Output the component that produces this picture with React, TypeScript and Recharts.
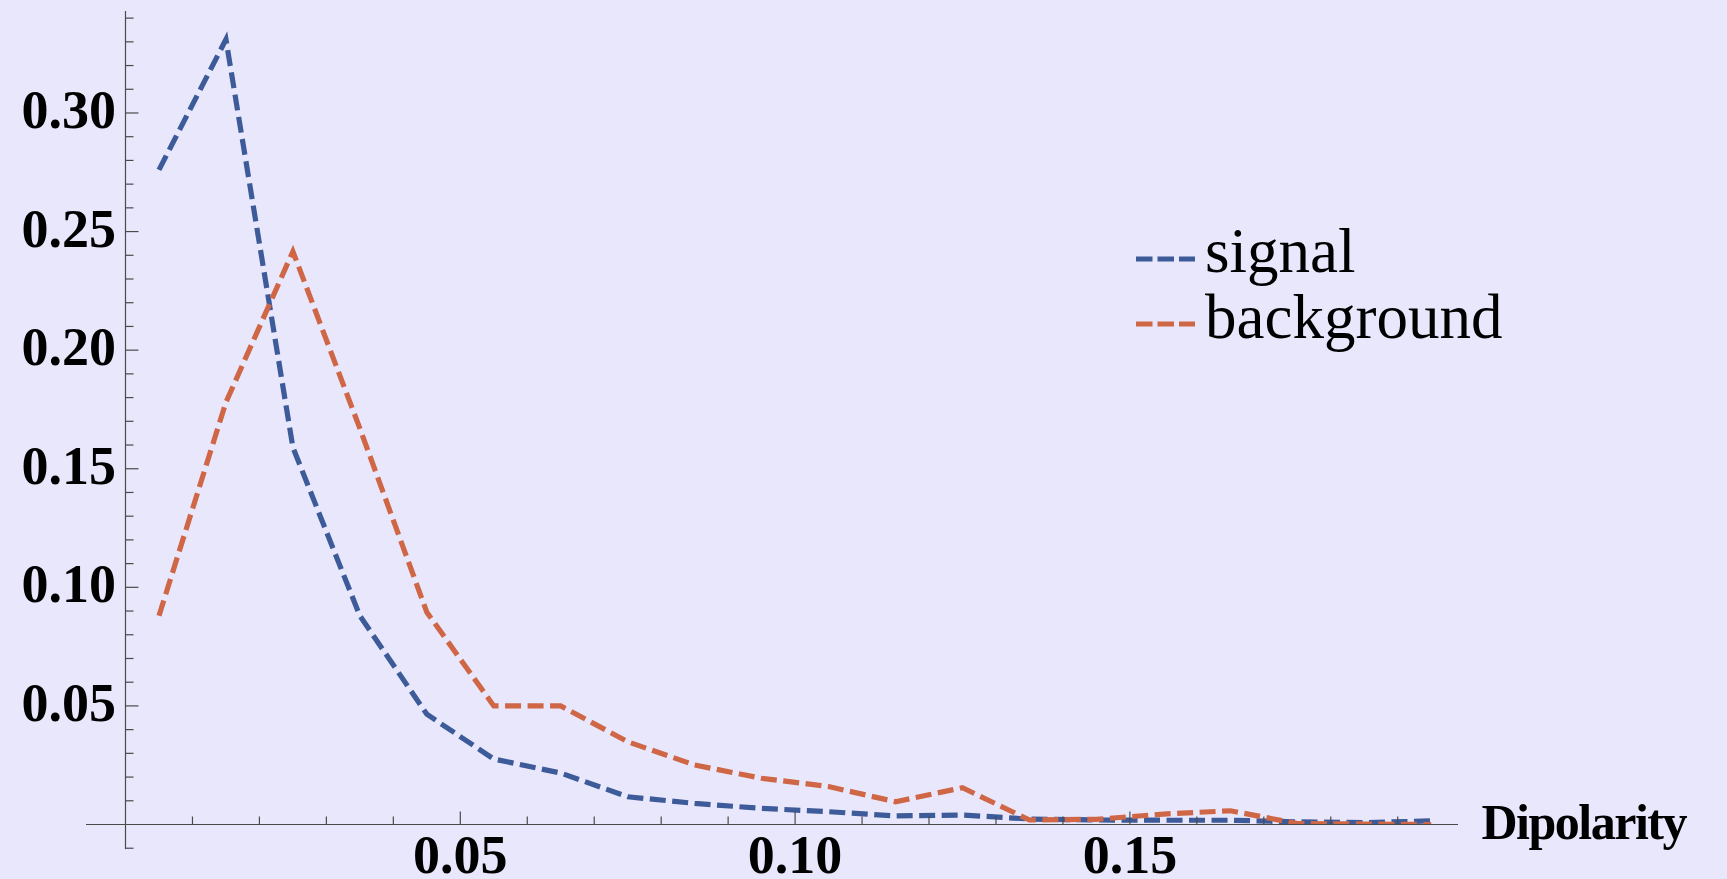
import { LineChart, Line, XAxis, YAxis, ReferenceLine, Legend } from "recharts";

// bin centres of the dipolarity histogram
const dipolarity = [
  0.005, 0.015, 0.025, 0.035, 0.045, 0.055, 0.065, 0.075, 0.085, 0.095,
  0.105, 0.115, 0.125, 0.135, 0.145, 0.155, 0.165, 0.175, 0.185, 0.195,
];

const signal = [
  0.276, 0.331, 0.159, 0.088, 0.0465, 0.0276, 0.0217, 0.0117, 0.0089, 0.0068,
  0.0054, 0.0036, 0.004, 0.0023, 0.0019, 0.0018, 0.0018, 0.0011, 0.0008, 0.0015,
];

const background = [
  0.088, 0.178, 0.2416, 0.167, 0.0895, 0.05, 0.05, 0.0349, 0.0251, 0.0195,
  0.016, 0.0096, 0.0155, 0.0019, 0.0022, 0.0044, 0.0058, 0.0004, 0.0002, 0,
];

const seriesNames = ["signal", "background"];

const xTicks = [
  0.01, 0.02, 0.03, 0.04, 0.05, 0.06, 0.07, 0.08, 0.09, 0.1,
  0.11, 0.12, 0.13, 0.14, 0.15, 0.16, 0.17, 0.18, 0.19,
];

const yTicks = [
  0.01, 0.02, 0.03, 0.04, 0.05, 0.06, 0.07, 0.08, 0.09, 0.1,
  0.11, 0.12, 0.13, 0.14, 0.15, 0.16, 0.17, 0.18, 0.19, 0.2,
  0.21, 0.22, 0.23, 0.24, 0.25, 0.26, 0.27, 0.28, 0.29, 0.3,
  0.31, 0.32, 0.33, 0.34,
];

const rows = dipolarity.map((d, i) => ({
  d,
  signal: signal[i],
  background: background[i],
}));

const FONT = '"Liberation Serif", "Times New Roman", serif';
const AXIS = "#4a4a4a";
const BLUE = "#3d5b98";
const ORANGE = "#cf6746";
const DASH = "16 6.5";

const isMajor = (v: number) => Math.round(v * 100) % 5 === 0;

function XTick(props: any) {
  const { x, y, payload } = props;
  const major = isMajor(payload.value);
  return (
    <g>
      <line x1={x} x2={x} y1={y} y2={y - (major ? 13 : 8)} stroke={AXIS} strokeWidth={1.2} />
      {major && (
        <text x={x} y={y + 48} textAnchor="middle" fontFamily={FONT} fontWeight="bold" fontSize={54} fill="#000">
          {payload.value.toFixed(2)}
        </text>
      )}
    </g>
  );
}

function YTick(props: any) {
  const { x, y, payload } = props;
  const major = isMajor(payload.value);
  return (
    <g>
      <line x1={x} x2={x + (major ? 13 : 8)} y1={y} y2={y} stroke={AXIS} strokeWidth={1.2} />
      {major && (
        <text x={x - 9.5} y={y + 15} textAnchor="end" fontFamily={FONT} fontWeight="bold" fontSize={54} fill="#000">
          {payload.value.toFixed(2)}
        </text>
      )}
    </g>
  );
}

const axisTitle = (props: any) => {
  const vb = props.viewBox;
  return (
    <text
      x={vb.x + vb.width + 23.5}
      y={vb.y + 14}
      fontFamily={FONT}
      fontWeight="bold"
      fontSize={50}
      letterSpacing={-1.5}
      fill="#000"
    >
      Dipolarity
    </text>
  );
};

function LegendBox({ payload }: any) {
  const items = [...(payload ?? [])].sort(
    (a: any, b: any) => seriesNames.indexOf(a.value) - seriesNames.indexOf(b.value)
  );
  return (
    <svg width={420} height={160}>
      {items.map((p: any, i: number) => (
        <g key={p.value}>
          <line x1={6} x2={65} y1={59 + i * 65} y2={59 + i * 65} stroke={p.color} strokeWidth={5} strokeDasharray="16.5 5" />
          <text x={75} y={72 + i * 66} fontFamily={FONT} fontSize={63} fill="#000">
            {p.value}
          </text>
        </g>
      ))}
    </svg>
  );
}

export default function App() {
  return (
    <div style={{ position: "absolute", left: 0, top: 0, width: 1727, height: 879, background: "#e9e7fc" }}>
      <LineChart
        width={1727}
        height={879}
        data={rows}
        margin={{ top: 11, right: 269, bottom: 53.5, left: 124.5 }}
      >
        <XAxis
          dataKey="d"
          type="number"
          domain={[0, 0.199]}
          allowDataOverflow
          ticks={xTicks}
          interval={0}
          height={1}
          tickSize={0}
          tickMargin={0}
          tickLine={false}
          tick={XTick}
          axisLine={{ stroke: AXIS, strokeWidth: 1.2 }}
          label={axisTitle}
        />
        <YAxis
          type="number"
          domain={[0, 0.343]}
          allowDataOverflow
          ticks={yTicks}
          interval={0}
          width={1}
          tickSize={0}
          tickMargin={0}
          tickLine={false}
          tick={YTick}
          axisLine={{ stroke: AXIS, strokeWidth: 1.2 }}
        />
        {/* axes cross at the origin: extend them past it */}
        <ReferenceLine segment={[{ x: -0.0059, y: 0 }, { x: 0, y: 0 }]} ifOverflow="visible" stroke={AXIS} strokeWidth={1.2} />
        <ReferenceLine segment={[{ x: 0, y: 0 }, { x: 0, y: -0.0104 }]} ifOverflow="visible" stroke={AXIS} strokeWidth={1.2} />
        <ReferenceLine segment={[{ x: 0, y: -0.01 }, { x: 0.0012, y: -0.01 }]} ifOverflow="visible" stroke={AXIS} strokeWidth={1.2} />
        <Legend
          layout="horizontal"
          verticalAlign="middle"
          align="center"
          content={LegendBox}
          wrapperStyle={{ position: "absolute", left: 1130, top: 200, width: 420, height: 160, margin: 0, padding: 0 }}
        />
        <Line
          dataKey="signal"
          name="signal"
          type="linear"
          stroke={BLUE}
          strokeWidth={5.2}
          strokeDasharray={DASH}
          dot={false}
          activeDot={false}
          isAnimationActive={false}
        />
        <Line
          dataKey="background"
          name="background"
          type="linear"
          stroke={ORANGE}
          strokeWidth={5.2}
          strokeDasharray={DASH}
          dot={false}
          activeDot={false}
          isAnimationActive={false}
        />
      </LineChart>
    </div>
  );
}
